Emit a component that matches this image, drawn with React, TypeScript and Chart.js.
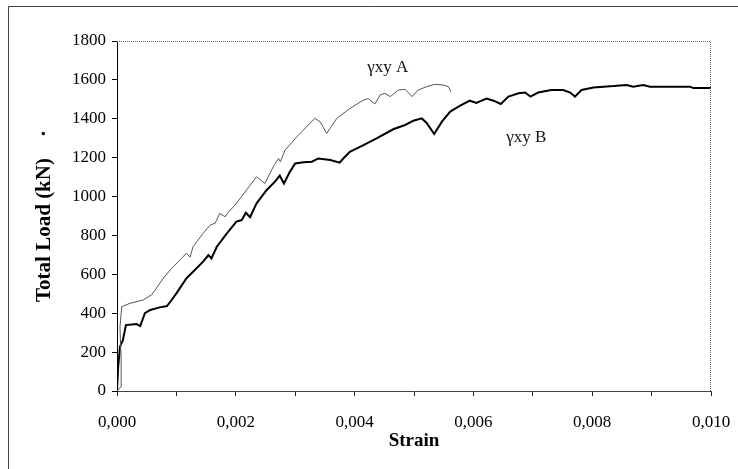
import React, { useEffect, useRef } from "react";
import { Chart, registerables } from "chart.js";

Chart.register(...registerables);

const strainA = [0, 0.00007, 0.00007, 0.00005, 0.00008, 0.00022, 0.00044, 0.00058, 0.00064, 0.00078, 0.00092, 0.00106, 0.00117, 0.00123, 0.00128, 0.00145, 0.00157, 0.00165, 0.00173, 0.00182, 0.00187, 0.00201, 0.00235, 0.00249, 0.00263, 0.00272, 0.00275, 0.00283, 0.00303, 0.00319, 0.00333, 0.00342, 0.00353, 0.0037, 0.00392, 0.00415, 0.00423, 0.00434, 0.00443, 0.00451, 0.0046, 0.00474, 0.00485, 0.00497, 0.00507, 0.00521, 0.00535, 0.00549, 0.00558, 0.00562];
const loadA = [0, 22, 160, 330, 434, 451, 468, 494, 519, 580, 631, 674, 709, 688, 742, 811, 854, 862, 913, 896, 917, 965, 1102, 1067, 1153, 1196, 1179, 1239, 1308, 1359, 1402, 1385, 1325, 1402, 1453, 1496, 1504, 1476, 1522, 1531, 1514, 1548, 1551, 1514, 1548, 1565, 1577, 1574, 1565, 1539];

const strainB = [0, 0.00002, 0.00005, 0.0001, 0.00015, 0.00033, 0.00039, 0.00047, 0.00056, 0.00072, 0.00084, 0.00092, 0.001, 0.00117, 0.00131, 0.00145, 0.00154, 0.00159, 0.00168, 0.00185, 0.00201, 0.0021, 0.00217, 0.00224, 0.00235, 0.00252, 0.00266, 0.00274, 0.00281, 0.00291, 0.003, 0.00314, 0.00328, 0.00339, 0.00359, 0.00375, 0.00381, 0.00392, 0.00415, 0.00437, 0.00465, 0.00485, 0.00499, 0.00513, 0.00521, 0.00534, 0.00547, 0.00561, 0.00577, 0.00594, 0.00605, 0.00622, 0.00634, 0.00646, 0.00659, 0.00676, 0.00687, 0.00696, 0.00709, 0.00731, 0.00751, 0.00763, 0.00771, 0.00782, 0.00802, 0.00819, 0.00836, 0.00858, 0.00869, 0.00886, 0.00897, 0.00926, 0.00965, 0.0097, 0.01];
const loadB = [0, 125, 228, 262, 339, 344, 334, 400, 417, 430, 437, 468, 502, 580, 622, 665, 699, 682, 742, 811, 871, 879, 917, 894, 965, 1034, 1077, 1108, 1067, 1127, 1170, 1176, 1179, 1196, 1188, 1174, 1196, 1230, 1265, 1299, 1346, 1368, 1390, 1402, 1380, 1322, 1385, 1437, 1466, 1493, 1482, 1504, 1493, 1476, 1514, 1531, 1535, 1514, 1535, 1548, 1548, 1535, 1514, 1548, 1561, 1565, 1568, 1574, 1565, 1574, 1565, 1565, 1565, 1558, 1558];

const xTickLabels = ["0,000", "", "0,002", "", "0,004", "", "0,006", "", "0,008", "", "0,010"];
const yTicks = [0, 200, 400, 600, 800, 1000, 1200, 1400, 1600, 1800];
const yTickLabels = ["0", "200", "400", "600", "800", "1000", "1200", "1400", "1600", "1800"];

const seriesLabels = ["\u03B3xy A", "\u03B3xy B"];
const labelPositions = [
  { x: 0.00456, y: 1666 },
  { x: 0.00689, y: 1306 },
];

const SERIF = "'Liberation Serif', 'DejaVu Serif', serif";

export default function App() {
  const ref = useRef<HTMLCanvasElement | null>(null);

  useEffect(() => {
    if (!ref.current) return;
    const decor = {
      id: "decor",
      afterDraw(chart: any) {
        const { ctx, chartArea, scales } = chart;
        ctx.save();
        // outer frame (top and left)
        ctx.strokeStyle = "#444";
        ctx.lineWidth = 1;
        ctx.setLineDash([]);
        ctx.beginPath();
        ctx.moveTo(738, 6.5);
        ctx.lineTo(8.5, 6.5);
        ctx.lineTo(8.5, 469);
        ctx.stroke();
        // dotted top/right plot border
        ctx.strokeStyle = "#666";
        ctx.setLineDash([1, 1]);
        ctx.beginPath();
        ctx.moveTo(chartArea.left, chartArea.top + 0.5);
        ctx.lineTo(chartArea.right - 0.5, chartArea.top + 0.5);
        ctx.lineTo(chartArea.right - 0.5, chartArea.bottom);
        ctx.stroke();
        ctx.setLineDash([]);
        // series labels
        ctx.fillStyle = "#111";
        ctx.font = "17px " + SERIF;
        ctx.textAlign = "center";
        ctx.textBaseline = "middle";
        seriesLabels.forEach((t, i) => {
          const p = labelPositions[i];
          ctx.fillText(t, scales.x.getPixelForValue(p.x), scales.y.getPixelForValue(p.y));
        });
        ctx.restore();
      },
    };

    const chart = new Chart(ref.current, {
      type: "line",
      data: {
        datasets: [
          {
            label: seriesLabels[0],
            data: strainA.map((x, i) => ({ x, y: loadA[i] })),
            borderColor: "#555",
            borderWidth: 1,
            pointRadius: 0,
            tension: 0,
          },
          {
            label: seriesLabels[1],
            data: strainB.map((x, i) => ({ x, y: loadB[i] })),
            borderColor: "#000",
            borderWidth: 2,
            pointRadius: 0,
            tension: 0,
          },
        ],
      },
      options: {
        animation: false,
        responsive: false,
        events: [],
        layout: { padding: { left: 0, right: 27, top: 41, bottom: 0 } },
        plugins: { legend: { display: false }, tooltip: { enabled: false } },
        scales: {
          x: {
            type: "linear",
            min: 0,
            max: 0.01,
            afterFit(axis: any) {
              axis.height = 78;
              axis.paddingLeft = 0;
              axis.paddingRight = 0;
            },
            afterBuildTicks(axis: any) {
              axis.ticks = xTickLabels.map((_, i) => ({ value: i * 0.001 }));
            },
            ticks: {
              autoSkip: false,
              maxRotation: 0,
              padding: 16,
              color: "#000",
              font: { family: SERIF, size: 17 },
              callback: (_v: any, i: number) => xTickLabels[i],
            },
            grid: {
              display: true,
              drawOnChartArea: false,
              drawTicks: true,
              tickLength: 5,
              color: "#222",
            },
            border: { display: true, color: "#444", dash: [2, 1] },
            title: {
              display: true,
              text: "Strain",
              color: "#000",
              font: { family: SERIF, size: 19, weight: "bold" },
              padding: 17,
            },
          },
          y: {
            min: 0,
            max: 1800,
            afterFit(axis: any) {
              axis.width = 117;
            },
            afterBuildTicks(axis: any) {
              axis.ticks = yTicks.map((v) => ({ value: v }));
            },
            ticks: {
              padding: 6,
              color: "#000",
              font: { family: SERIF, size: 17 },
              callback: (_v: any, i: number) => yTickLabels[i],
            },
            grid: {
              display: true,
              drawOnChartArea: false,
              drawTicks: true,
              tickLength: 5,
              color: "#000",
            },
            border: { display: true, color: "#000", width: 1 },
            title: {
              display: true,
              text: "Total Load (kN)    \u00B7",
              color: "#000",
              font: { family: SERIF, size: 21, weight: "bold" },
              padding: 32,
            },
          },
        },
      },
      plugins: [decor],
    } as any);
    return () => chart.destroy();
  }, []);

  return (
    <div style={{ position: "fixed", left: 0, top: 0, width: 738, height: 469, background: "#fff" }}>
      <canvas ref={ref} width={738} height={469} style={{ display: "block" }} />
    </div>
  );
}
